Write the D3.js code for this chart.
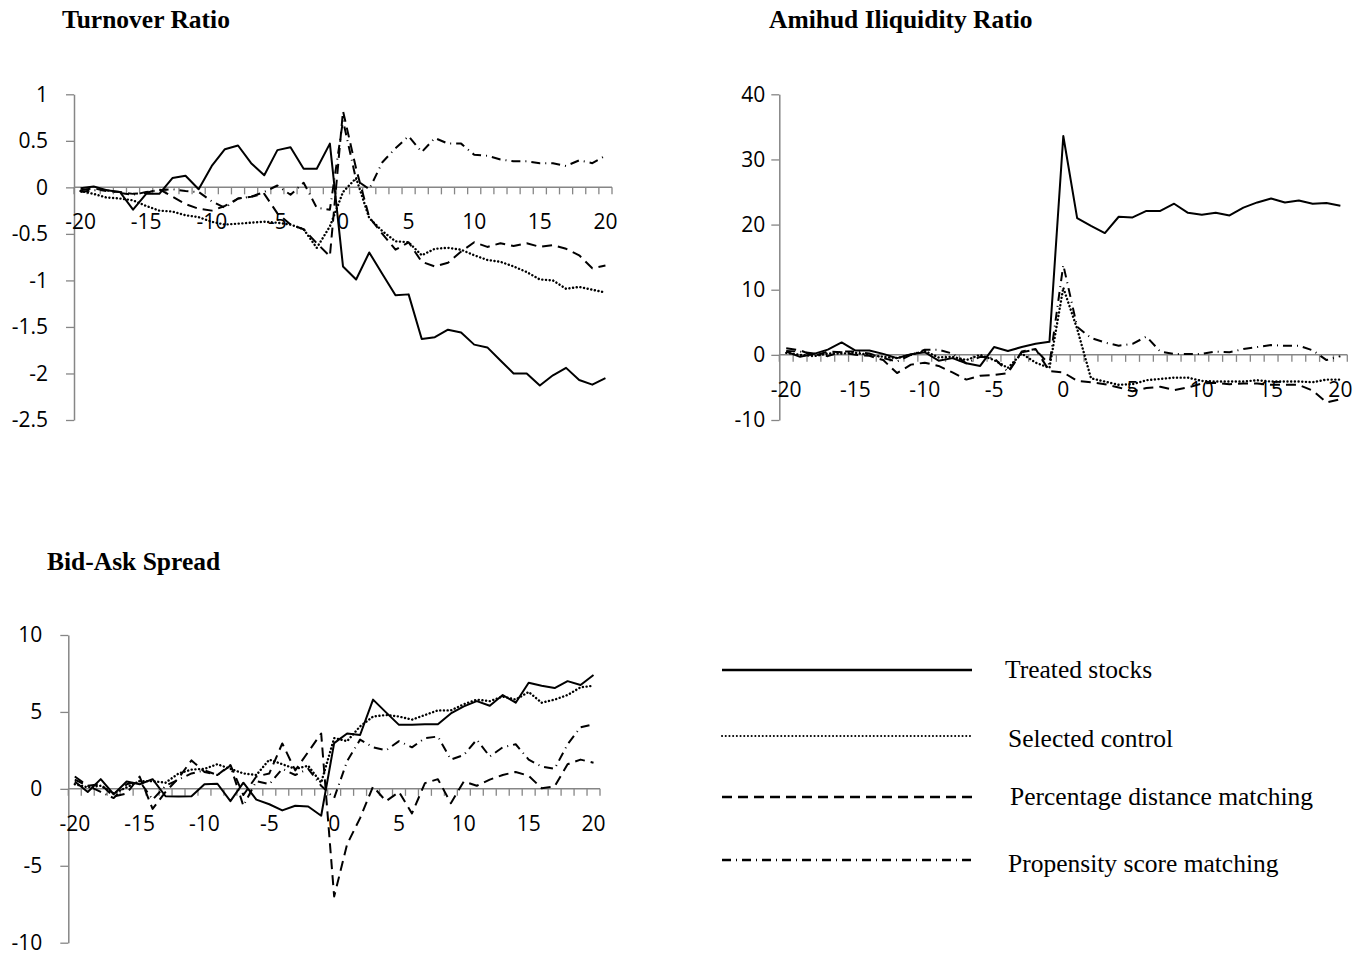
<!DOCTYPE html>
<html>
<head>
<meta charset="utf-8">
<script src="https://cdn.jsdelivr.net/npm/d3@7/dist/d3.min.js"></script>
<style>
  body { margin: 0; background: #fff; }
</style>
</head>
<body>
<div id="chart"></div>
<script>
// event days
const days = [-20,-19,-18,-17,-16,-15,-14,-13,-12,-11,-10,-9,-8,-7,-6,-5,-4,-3,-2,-1,0,
  1,2,3,4,5,6,7,8,9,10,11,12,13,14,15,16,17,18,19,20];
const xLabels = [-20,-15,-10,-5,0,5,10,15,20];

const seriesNames = ["Treated stocks", "Selected control", "Percentage distance matching", "Propensity score matching"];

// Turnover ratio
const turnTreated = [-0.01,0.01,-0.03,-0.05,-0.24,-0.07,-0.07,0.10,0.125,-0.02,0.23,0.41,0.45,0.26,0.13,0.40,0.43,0.20,0.20,0.47,
  -0.85,-0.99,-0.70,-0.93,-1.16,-1.15,-1.63,-1.61,-1.53,-1.56,-1.69,-1.72,-1.86,-2.0,-2.0,-2.13,-2.02,-1.94,-2.07,-2.12,-2.05];
const turnControl = [-0.04,-0.07,-0.11,-0.12,-0.14,-0.2,-0.25,-0.26,-0.3,-0.32,-0.37,-0.4,-0.39,-0.38,-0.37,-0.38,-0.4,-0.45,-0.65,-0.42,
  -0.05,0.1,-0.33,-0.47,-0.58,-0.59,-0.73,-0.66,-0.65,-0.67,-0.73,-0.78,-0.8,-0.85,-0.91,-0.99,-1.0,-1.09,-1.07,-1.1,-1.13];
const turnPct = [-0.03,-0.01,-0.04,-0.05,-0.07,-0.06,-0.02,-0.1,-0.18,-0.23,-0.25,-0.2,-0.12,-0.1,-0.07,-0.28,-0.4,-0.45,-0.6,-0.74,
  0.82,0.2,-0.32,-0.5,-0.67,-0.59,-0.8,-0.85,-0.81,-0.69,-0.59,-0.64,-0.6,-0.63,-0.6,-0.64,-0.62,-0.66,-0.73,-0.87,-0.84];
const turnPsm = [-0.05,-0.03,-0.03,-0.06,-0.08,-0.05,-0.03,-0.02,-0.04,-0.05,-0.15,-0.22,-0.12,-0.1,-0.05,0.02,-0.08,0.05,-0.22,-0.24,
  0.72,0.08,-0.02,0.27,0.42,0.55,0.38,0.53,0.47,0.47,0.35,0.34,0.3,0.28,0.28,0.26,0.26,0.23,0.29,0.26,0.34];
const turnTicks = [1,0.5,0,-0.5,-1,-1.5,-2,-2.5];

// Amihud illiquidity ratio
const amiTreated = [0.5,-0.3,0.15,0.8,1.9,0.66,0.66,0.15,-0.5,0.1,0.4,-0.9,-0.5,-1.3,-1.7,1.2,0.6,1.2,1.7,2.0,
  33.6,21.0,19.8,18.7,21.2,21.1,22.1,22.1,23.2,21.8,21.5,21.8,21.4,22.6,23.4,24.0,23.4,23.7,23.2,23.3,22.9];
const amiControl = [0.3,0.0,-0.2,0.2,0.2,0.3,0.0,-0.3,-0.5,0.0,0.6,-0.4,-0.3,-0.8,0.0,-0.8,-2.0,0.2,-1.2,-2.0,
  10.3,4.0,-3.6,-4.1,-4.6,-4.5,-3.9,-3.7,-3.5,-3.5,-4.0,-4.1,-4.1,-4.1,-3.9,-4.1,-4.1,-4.1,-4.2,-3.8,-3.8];
const amiPct = [1.0,0.7,-0.15,0.5,0.4,0.0,-0.15,-0.8,-2.8,-1.5,-1.2,-1.7,-2.7,-3.8,-3.2,-3.1,-2.8,0.5,0.9,-2.5,
  -2.7,-4.0,-4.2,-4.5,-5.0,-5.6,-5.1,-4.9,-5.4,-5.0,-4.4,-4.3,-4.5,-4.4,-4.4,-4.6,-4.6,-4.6,-5.5,-7.3,-6.8];
const amiPsm = [0.6,0.5,0.2,-0.2,0.5,0.5,0.2,-0.5,-1.0,0.0,0.8,0.8,0.2,-1.3,-0.3,-0.5,-2.6,0.4,0.8,-1.5,
  13.8,4.3,2.6,1.9,1.4,1.7,2.8,0.5,0.15,0.15,0.15,0.5,0.4,0.9,1.2,1.5,1.4,1.4,0.7,-0.8,-0.2];
const amiTicks = [40,30,20,10,0,-10];

// Bid-ask spread
const spreadTreated = [0.48,-0.2,0.63,-0.35,0.48,0.3,0.63,-0.48,-0.5,-0.48,0.3,0.33,-0.8,0.4,-0.7,-1.0,-1.4,-1.1,-1.15,-1.75,
  2.97,3.6,3.5,5.8,4.97,4.16,4.16,4.2,4.2,4.9,5.36,5.7,5.4,6.1,5.6,6.9,6.7,6.55,7.0,6.75,7.4];
const spreadControl = [0.3,0.1,0.2,-0.3,0.1,0.5,0.5,0.4,1.0,1.25,1.3,1.6,1.3,1.0,0.9,1.9,1.6,1.3,1.5,0.4,
  3.3,3.1,4.06,4.7,4.8,4.7,4.5,4.8,5.1,5.1,5.5,5.8,5.7,6.0,5.8,6.3,5.6,5.8,6.1,6.6,6.7];
const spreadPct = [0.8,0.2,0.3,-0.5,-0.3,0.8,-1.3,-0.2,0.7,1.85,1.1,0.9,1.55,-0.4,0.8,1.0,2.95,1.2,2.4,3.6,
  -7.0,-3.6,-1.9,0.15,-0.8,-0.2,-1.6,0.37,0.63,-0.93,0.48,0.2,0.6,0.9,1.1,0.85,0.04,0.15,1.6,1.9,1.7];
const spreadPsm = [0.6,0.2,-0.2,-0.6,0.3,0.5,-0.7,0.2,0.6,1.0,1.2,0.9,1.5,-1.1,0.5,0.3,1.3,0.9,1.3,0.2,
  -0.6,1.8,3.2,2.7,2.5,3.1,2.7,3.3,3.4,1.9,2.2,3.2,2.1,2.7,2.9,1.9,1.45,1.3,2.9,4.0,4.2];
const spreadTicks = [10,5,0,-5,-10];

const W = 1370, H = 956;
const axisGray = "#868686";
const sansFont = "'Open Sans', 'Noto Sans', sans-serif";
const serifFont = "'Liberation Serif', 'DejaVu Serif', serif";

// line styles: solid, dotted, dashed, dash-dot
const styles = [
  { dash: null, cap: "butt" },
  { dash: "0.1,3.6", cap: "round" },
  { dash: "10,6", cap: "butt" },
  { dash: "9,5,1,5", cap: "butt" }
];

const svg = d3.select("#chart").append("svg")
  .attr("width", W).attr("height", H)
  .attr("viewBox", `0 0 ${W} ${H}`);

const panels = [
  { title: "Turnover Ratio", tx: 62, ty: 28,
    series: [turnTreated, turnControl, turnPct, turnPsm],
    domain: [-2.5, 1], ticks: turnTicks,
    left: 74, right: 612, top: 94.3, bottom: 420, ypad: 18 },
  { title: "Amihud Iliquidity Ratio", tx: 769, ty: 28,
    series: [amiTreated, amiControl, amiPct, amiPsm],
    domain: [-10, 40], ticks: amiTicks,
    left: 779.3, right: 1347.3, top: 94.3, bottom: 420, ypad: 6 },
  { title: "Bid-Ask Spread", tx: 47, ty: 570,
    series: [spreadTreated, spreadControl, spreadPct, spreadPsm],
    domain: [-10, 10], ticks: spreadTicks,
    left: 68.3, right: 600, top: 635, bottom: 942.7, ypad: 18 }
];

panels.forEach(p => {
  const x = d3.scaleBand().domain(days).range([p.left, p.right]);
  const y = d3.scaleLinear().domain(p.domain).range([p.bottom, p.top]);
  const g = svg.append("g");

  g.append("text")
    .attr("x", p.tx).attr("y", p.ty)
    .style("font-family", serifFont)
    .style("font-weight", "bold")
    .style("font-size", "25.5px")
    .text(p.title);

  // y axis
  const ya = g.append("g")
    .attr("transform", `translate(${p.left},0)`)
    .call(d3.axisLeft(y).tickValues(p.ticks).tickSizeInner(8).tickSizeOuter(0)
      .tickPadding(p.ypad).tickFormat(d => String(d)));
  ya.select(".domain").attr("stroke", axisGray).attr("stroke-width", 1.5);
  ya.selectAll(".tick line").attr("stroke", axisGray).attr("stroke-width", 1.3);
  ya.selectAll("text").style("font-family", sansFont).style("font-size", "21px").attr("fill", "#000");

  // x axis crossing at zero, ticks between categories
  const y0 = y(0);
  g.append("line")
    .attr("x1", p.left).attr("x2", p.right)
    .attr("y1", y0).attr("y2", y0)
    .attr("stroke", axisGray).attr("stroke-width", 1.5);
  const bounds = days.map(d => x(d)).concat([x.range()[1]]);
  g.selectAll(".xtick").data(bounds).enter().append("line")
    .attr("x1", d => d).attr("x2", d => d)
    .attr("y1", y0).attr("y2", y0 + 7)
    .attr("stroke", axisGray).attr("stroke-width", 1.3);
  const xa = g.append("g")
    .attr("transform", `translate(0,${y0})`)
    .call(d3.axisBottom(x).tickValues(xLabels).tickSize(0).tickPadding(27).tickFormat(d => String(d)));
  xa.select(".domain").remove();
  xa.selectAll("text").style("font-family", sansFont).style("font-size", "21px").attr("fill", "#000");

  const line = d3.line()
    .x((d, i) => x(days[i]) + x.bandwidth() / 2)
    .y(d => y(d));

  p.series.forEach((s, k) => {
    g.append("path")
      .datum(s)
      .attr("d", line)
      .attr("fill", "none")
      .attr("stroke", "#000")
      .attr("stroke-width", k === 1 ? 2.4 : 2)
      .attr("stroke-linecap", styles[k].cap)
      .attr("stroke-linejoin", "round")
      .attr("stroke-dasharray", styles[k].dash);
  });
});

// legend
const legY = [670, 736, 797, 860];
const legTextX = [1005, 1008, 1010, 1008];
const legTextY = [670, 739, 797, 864];
const leg = svg.append("g");
seriesNames.forEach((name, k) => {
  leg.append("line")
    .attr("x1", 722).attr("x2", 972)
    .attr("y1", legY[k]).attr("y2", legY[k])
    .attr("stroke", "#000")
    .attr("stroke-width", k === 1 ? 2 : 2.4)
    .attr("stroke-linecap", styles[k].cap)
    .attr("stroke-dasharray", styles[k].dash);
  leg.append("text")
    .attr("x", legTextX[k]).attr("y", legTextY[k] + 8)
    .style("font-family", serifFont)
    .style("font-size", "25.5px")
    .text(name);
});
</script>
</body>
</html>
